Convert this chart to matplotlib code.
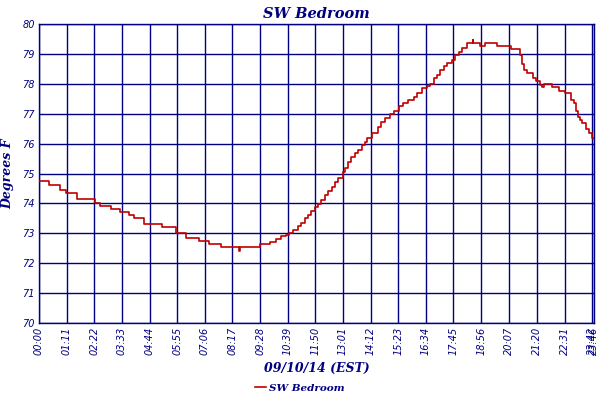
import matplotlib
matplotlib.use('Agg')
import matplotlib.pyplot as plt

# Temperature log, SW Bedroom, 09/10/14 (minutes after midnight, deg F)
times = [0, 26, 54, 69, 97, 143, 158, 184, 207, 232, 245, 270, 316, 352, 378,
         411, 436, 467, 513, 516, 569, 594, 610, 622, 635, 643, 653, 666, 673,
         684, 691, 699, 709, 717, 724, 735, 742, 753, 760, 768, 781, 786, 793,
         801, 811, 819, 829, 837, 844, 855, 870, 880, 890, 903, 911, 926, 936,
         949, 964, 972, 985, 997, 1005, 1015, 1023, 1031, 1041, 1048, 1061,
         1069, 1079, 1087, 1099, 1114, 1116, 1133, 1145, 1176, 1212, 1235,
         1242, 1247, 1255, 1268, 1278, 1286, 1293, 1298, 1319, 1337, 1352,
         1367, 1375, 1380, 1385, 1390, 1395, 1406, 1413, 1421, 1426]
temps = [74.75, 74.6, 74.45, 74.35, 74.15, 74.0, 73.9, 73.8, 73.7, 73.6, 73.5,
         73.3, 73.2, 73.0, 72.85, 72.75, 72.65, 72.55, 72.4, 72.55, 72.65, 72.7,
         72.8, 72.9, 72.95, 73.0, 73.1, 73.25, 73.35, 73.5, 73.6, 73.75, 73.88,
         73.98, 74.1, 74.28, 74.4, 74.55, 74.7, 74.85, 75.05, 75.2, 75.38, 75.55,
         75.68, 75.8, 75.95, 76.05, 76.2, 76.35, 76.55, 76.72, 76.85, 77.0, 77.1,
         77.25, 77.35, 77.45, 77.55, 77.7, 77.85, 77.93, 78.0, 78.2, 78.3, 78.45,
         78.6, 78.7, 78.8, 78.95, 79.05, 79.2, 79.35, 79.45, 79.35, 79.25, 79.35,
         79.25, 79.15, 78.95, 78.65, 78.45, 78.35, 78.2, 78.1, 77.95, 77.9, 78.0,
         77.9, 77.75, 77.7, 77.45, 77.35, 77.1, 76.9, 76.8, 76.7, 76.5, 76.35,
         76.2, 76.2]

tick_labels = ['00:00', '01:11', '02:22', '03:33', '04:44', '05:55', '07:06',
               '08:17', '09:28', '10:39', '11:50', '13:01', '14:12', '15:23',
               '16:34', '17:45', '18:56', '20:07', '21:20', '22:31', '23:42',
               '23:46']
tick_pos = [int(t[:2]) * 60 + int(t[3:]) for t in tick_labels]

navy = '#000080'
red = '#c00000'

fig = plt.figure(figsize=(6, 4), dpi=100)
ax = fig.add_axes([0.065, 0.1925, 0.925, 0.7475])

ax.plot(times, temps, drawstyle='steps-post', color=red, linewidth=1.2,
        label='SW Bedroom', zorder=3)

ax.set_xlim(0, 1426)
ax.set_ylim(70, 80)
ax.set_yticks(range(70, 81))
ax.set_xticks(tick_pos)
ax.set_xticklabels(tick_labels, rotation=90)
ax.grid(True, color=navy, linewidth=1.0)
ax.tick_params(length=0, labelsize=7, labelcolor=navy, pad=3)
for lbl in ax.get_xticklabels() + ax.get_yticklabels():
    lbl.set_fontstyle('italic')
for s in ax.spines.values():
    s.set_color(navy)
    s.set_linewidth(1.0)

serif = dict(family='DejaVu Serif', fontweight='bold', fontstyle='italic', color=navy)
ax.set_title('SW Bedroom', fontsize=10.5, pad=4, **serif)
ax.set_xlabel('09/10/14 (EST)', fontsize=9, labelpad=5, **serif)
ax.set_ylabel('Degrees F', fontsize=9, labelpad=6, **serif)

leg = fig.legend(loc='lower center', bbox_to_anchor=(0.5, -0.005), frameon=False,
                 handlelength=1.0, handletextpad=0.3,
                 prop=dict(family='DejaVu Serif', weight='bold', style='italic', size=7.5))
for t in leg.get_texts():
    t.set_color(navy)

fig.savefig('out.png', dpi=100)
